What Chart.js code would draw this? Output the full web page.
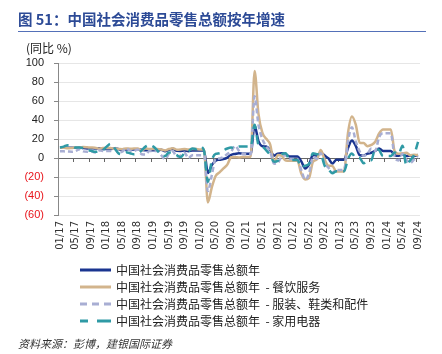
<!DOCTYPE html>
<html><head><meta charset="utf-8">
<script src="https://cdn.jsdelivr.net/npm/chart.js@4"></script>
<style>
body{margin:0;width:442px;height:354px;overflow:hidden;background:#fff;font-family:"Noto Sans CJK SC",sans-serif;position:relative}
#c{position:absolute;left:0;top:0}
.title{position:absolute;left:18px;top:9px;font-size:14.5px;line-height:20px;font-weight:bold;color:#2c4a96;white-space:nowrap}
.rule{position:absolute;left:18px;top:31px;width:408px;height:0;border-top:1.5px solid #5470b8}
.unit{position:absolute;left:26px;top:39px;font-size:12px;line-height:18px;color:#222;white-space:nowrap}
.legend{position:absolute;left:80px;top:261px;font-size:12px;color:#222}
.row{height:17px;display:flex;align-items:center;white-space:nowrap}
.row svg{margin-right:5px}
.src{position:absolute;left:18px;top:335px;font-size:11px;line-height:16px;font-style:italic;color:#333;white-space:nowrap}
</style></head>
<body>
<canvas id="c" width="442" height="354"></canvas>
<div class="title">图 51：中国社会消费品零售总额按年增速</div>
<div class="rule"></div>
<div class="unit">(同比 %)</div>
<div class="legend">
  <div class="row"><svg width="31" height="6"><line x1="0" y1="3" x2="31" y2="3" stroke="#1a3590" stroke-width="3"/></svg><span>中国社会消费品零售总额年</span></div>
  <div class="row"><svg width="31" height="6"><line x1="0" y1="3" x2="31" y2="3" stroke="#d2b48c" stroke-width="3"/></svg><span>中国社会消费品零售总额年 &nbsp;- 餐饮服务</span></div>
  <div class="row"><svg width="31" height="6"><line x1="0" y1="3" x2="31" y2="3" stroke="#a8aed3" stroke-width="3" stroke-dasharray="7,5"/></svg><span>中国社会消费品零售总额年 &nbsp;- 服装、鞋类和配件</span></div>
  <div class="row"><svg width="31" height="6"><line x1="0" y1="3" x2="31" y2="3" stroke="#2f9aa5" stroke-width="3" stroke-dasharray="8,9,14"/></svg><span>中国社会消费品零售总额年 &nbsp;- 家用电器</span></div>
</div>
<div class="src">资料来源：彭博，建银国际证券</div>
<script>
// categories: monthly, 01/17 .. 09/24
const years = ['17','18','19','20','21','22','23','24'];
const monthsInYear = ['01','02','03','04','05','06','07','08','09','10','11','12'];
const lastMonthOf24 = 9;
const labels = [];
years.forEach(y => monthsInYear.forEach((m, k) => { if (y !== '24' || k < lastMonthOf24) labels.push(m + '/' + y); }));

const yTicks = [-60, -40, -20, 0, 20, 40, 60, 80, 100];

const total = [
 10.9,10.9,10.9,10.7,10.7,11.0,10.4,10.1,10.3,10.0,10.2,9.4,
 9.4,9.4,10.1,9.4,8.5,9.0,8.8,9.0,9.2,8.6,8.1,8.2,
 8.2,8.2,8.7,7.2,8.6,9.8,7.6,7.5,7.8,7.2,8.0,8.0,
 8.0,8.0,-15.8,-7.5,-2.8,-1.8,-1.1,0.5,3.3,4.3,5.0,4.6,
 4.6,4.6,34.2,17.7,12.4,12.1,8.5,2.5,4.4,4.9,3.9,1.7,
 1.7,1.7,-3.5,-11.1,-6.7,3.1,2.7,5.4,2.5,-0.5,-5.9,-1.8,
 -1.8,-1.8,10.6,18.4,12.7,3.1,2.5,4.6,5.5,7.6,10.1,7.4,
 7.4,7.4,3.1,2.3,3.7,2.0,2.7,2.1,3.2
];
const catering = [
 10.9,10.9,10.2,10.6,11.2,11.1,11.5,11.3,11.0,10.9,9.7,10.4,
 10.4,10.4,9.7,9.6,9.3,10.0,9.8,9.9,9.9,8.0,9.9,9.4,
 9.4,9.4,9.0,8.0,9.4,10.2,8.8,9.0,9.4,8.9,9.6,9.4,
 9.0,9.0,-46.8,-31.1,-18.9,-15.2,-11.0,-7.0,0.7,0.8,0.6,1.0,
 1.0,1.0,91.6,46.4,26.6,20.2,14.3,-4.5,3.1,2.0,-2.7,-2.9,
 -2.9,-2.9,-16.4,-22.7,-21.1,-4.0,-1.5,8.4,-1.7,-8.1,-8.4,-14.1,
 -14.1,-14.1,26.3,43.8,35.1,16.1,15.8,12.4,13.8,17.1,25.8,30.0,
 30.0,30.0,6.9,4.4,5.0,5.4,3.0,3.3,3.1
];
const apparel = [
 7.0,7.0,6.8,6.6,7.3,9.2,7.0,6.6,7.1,5.8,8.0,7.5,
 7.5,7.5,9.5,6.1,6.8,10.1,7.8,7.4,9.0,4.0,3.7,7.4,
 7.4,7.4,3.0,-1.1,4.3,7.0,1.5,2.6,5.5,0.0,3.0,3.0,
 3.0,3.0,-34.8,-18.5,-0.6,-0.4,1.0,4.2,7.1,12.7,7.5,4.0,
 4.0,4.0,65.0,35.0,20.0,12.0,7.0,-6.0,-5.0,2.0,3.0,-1.0,
 -1.0,-1.0,-12.7,-22.8,-16.2,1.2,-0.8,5.1,-5.5,-10.3,-15.6,-12.5,
 -12.5,-12.5,17.7,32.4,17.6,6.9,2.3,4.5,9.9,7.5,22.0,26.0,
 26.0,26.0,1.1,-2.5,4.4,-1.9,-5.2,-1.6,0.4
];
const appliances = [
 11.0,12.0,13.5,13.0,11.0,11.0,10.5,8.4,7.6,6.5,7.0,8.4,
 12.0,15.0,10.6,5.0,4.0,6.0,5.0,4.0,5.0,8.0,12.0,13.5,
 12.0,8.0,3.0,2.0,5.8,5.0,3.0,1.0,5.0,7.0,10.0,9.5,
 12.0,8.0,-25.0,-3.0,4.3,5.0,8.0,10.0,11.0,10.0,12.0,12.0,
 12.0,12.0,35.0,14.0,12.0,8.0,3.0,-4.0,-3.0,4.0,5.0,-2.0,
 -2.0,-2.0,-9.5,-8.1,-6.0,5.0,4.0,3.7,-8.1,-12.0,-16.0,-14.0,
 -14.0,-14.0,-1.1,4.7,0.1,-0.1,-5.5,-2.9,-2.3,9.6,8.3,2.0,
 2.0,2.0,5.8,4.0,12.9,-7.6,-2.4,3.4,17.0
];

const common = {pointRadius:0, borderWidth:2.5, cubicInterpolationMode:'monotone', borderJoinStyle:'round', fill:false};
new Chart(document.getElementById('c'), {
  type:'line',
  data:{labels, datasets:[
    Object.assign({label:'中国社会消费品零售总额年', data:total, borderColor:'#1a3590', order:4}, common),
    Object.assign({label:'中国社会消费品零售总额年 - 餐饮服务', data:catering, borderColor:'#d2b48c', order:3}, common),
    Object.assign({label:'中国社会消费品零售总额年 - 服装、鞋类和配件', data:apparel, borderColor:'#a8aed3', borderDash:[5,3], order:2}, common),
    Object.assign({label:'中国社会消费品零售总额年 - 家用电器', data:appliances, borderColor:'#2f9aa5', borderDash:[9,6], order:1}, common)
  ]},
  options:{
    responsive:false, animation:false, devicePixelRatio:1,
    layout:{padding:{left:0, top:63, right:22, bottom:0}},
    plugins:{legend:{display:false}, tooltip:{enabled:false}},
    scales:{
      x:{type:'category', position:'bottom', offset:true,
         grid:{display:false, drawTicks:false}, border:{display:false},
         ticks:{autoSkip:false, maxRotation:90, minRotation:90, padding:6, color:'#333',
                font:{size:10, family:'DejaVu Sans'},
                callback:(v,i)=> i%4===0 ? labels[i] : null},
         afterFit:s=>{s.height=139;}},
      xz:{type:'category', position:{y:0}, offset:true,
          grid:{drawOnChartArea:false, drawTicks:true, tickLength:4, offset:true,
                tickColor:ctx=> (ctx.index%4===0 ? '#666' : 'rgba(0,0,0,0)')},
          border:{display:false}, ticks:{display:false}},
      y:{type:'linear', min:-60, max:100,
         afterBuildTicks:s=>{s.ticks = yTicks.map(v=>({value:v}));},
         grid:{color:ctx=> (ctx.tick && ctx.tick.value===0 ? '#666' : '#e6e6e6'), tickColor:'#888', tickLength:4},
         border:{color:'#888'},
         ticks:{padding:10, font:{size:11, family:'Liberation Sans'},
                color:ctx=> (ctx.tick.value<0 ? '#e8141b' : '#222'),
                callback:v=> v<0 ? '('+(-v)+')' : String(v)},
         afterFit:s=>{s.width=58;}}
    }
  }
});
</script>
</body></html>
